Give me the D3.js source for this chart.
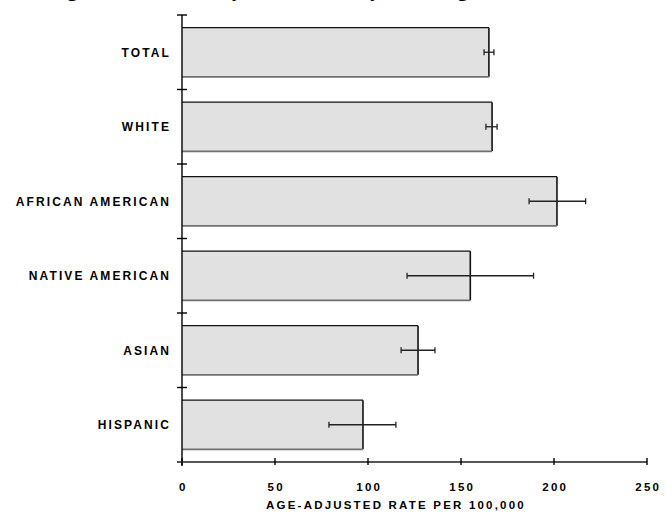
<!DOCTYPE html>
<html>
<head>
<meta charset="utf-8">
<script src="https://cdn.jsdelivr.net/npm/d3@7/dist/d3.min.js"></script>
<style>
  html, body { margin: 0; padding: 0; background: #fff; }
  svg { display: block; }
</style>
</head>
<body>
<script>
const categories = ["TOTAL", "WHITE", "AFRICAN AMERICAN", "NATIVE AMERICAN", "ASIAN", "HISPANIC"];
const rates      = [165.0, 166.7, 201.6, 155.0, 126.9, 97.3];
const ciLow      = [162.4, 163.4, 186.6, 121.0, 117.8, 79.0];
const ciHigh     = [167.7, 169.4, 217.0, 189.0, 136.0, 115.0];
const xTicks     = [0, 50, 100, 150, 200, 250];
const xTitle     = "AGE-ADJUSTED RATE PER 100,000";
const chartTitle = "Lung Cancer Deaths by Race/Ethnicity, Washington, 1996–2000";

const W = 666, H = 512;
const svg = d3.select("body").append("svg").attr("width", W).attr("height", H);

const x = d3.scaleLinear().domain([0, 250]).range([182, 647]);
const y = d3.scaleBand().domain(categories).range([15, 462]).paddingInner(0.34).paddingOuter(0.17);

const data = categories.map((c, i) => ({ c, v: rates[i], lo: ciLow[i], hi: ciHigh[i] }));

// Partially visible title at top (cut off, as in the reference)
svg.append("text")
  .attr("x", 30).attr("y", -4)
  .attr("font-family", "Liberation Serif, Times New Roman, serif")
  .attr("font-weight", "bold").attr("font-size", 21)
  .attr("fill", "#000")
  .text(chartTitle);

// Bars
const bars = svg.append("g");
data.forEach(d => {
  const x0 = x(0), x1 = x(d.v), y0 = y(d.c), y1 = y(d.c) + y.bandwidth();
  bars.append("rect")
    .attr("x", x0).attr("y", y0).attr("width", x1 - x0).attr("height", y1 - y0)
    .attr("fill", "#e1e1e1");
  bars.append("line").attr("x1", x0).attr("x2", x1).attr("y1", y0).attr("y2", y0)
    .attr("stroke", "#111").attr("stroke-width", 1.4);
  bars.append("line").attr("x1", x1).attr("x2", x1).attr("y1", y0).attr("y2", y1)
    .attr("stroke", "#111").attr("stroke-width", 1.6);
  bars.append("line").attr("x1", x0).attr("x2", x1).attr("y1", y1).attr("y2", y1)
    .attr("stroke", "#707070").attr("stroke-width", 1.8);
});

// Error bars
const err = svg.append("g").attr("stroke", "#222").attr("stroke-width", 1.3);
data.forEach(d => {
  const cy = y(d.c) + y.bandwidth() / 2;
  err.append("line").attr("x1", x(d.lo)).attr("x2", x(d.hi)).attr("y1", cy).attr("y2", cy);
  err.append("line").attr("x1", x(d.lo)).attr("x2", x(d.lo)).attr("y1", cy - 3).attr("y2", cy + 3);
  err.append("line").attr("x1", x(d.hi)).attr("x2", x(d.hi)).attr("y1", cy - 3).attr("y2", cy + 3);
});

// Y axis line and ticks at band boundaries
const yAxis = svg.append("g").attr("stroke", "#000").attr("stroke-width", 1.4);
yAxis.append("line").attr("x1", x(0)).attr("x2", x(0)).attr("y1", y.range()[0]).attr("y2", y.range()[1] + 4);
for (let i = 0; i <= categories.length; i++) {
  const ty = y.range()[0] + i * y.step();
  yAxis.append("line").attr("x1", x(0) - 5).attr("x2", x(0) + 5).attr("y1", ty).attr("y2", ty);
}

// X axis
const xAxisY = y.range()[1];
const xAxis = svg.append("g").attr("stroke", "#000").attr("stroke-width", 1.4);
xAxis.append("line").attr("x1", x(0) - 4).attr("x2", x(250)).attr("y1", xAxisY).attr("y2", xAxisY)
  .attr("stroke", "#555").attr("stroke-width", 1.8);
xTicks.forEach(t => {
  xAxis.append("line").attr("x1", x(t)).attr("x2", x(t)).attr("y1", xAxisY - 4).attr("y2", xAxisY + 3);
});

const labelFont = "Liberation Sans, Arial, Helvetica, sans-serif";
// X tick labels
svg.append("g").selectAll("text").data(xTicks).join("text")
  .attr("x", d => x(d) + 1.2).attr("y", 491)
  .attr("text-anchor", "middle")
  .attr("font-family", labelFont).attr("font-weight", "bold").attr("font-size", 11.5)
  .attr("letter-spacing", "2.2px")
  .text(d => d);

// X axis title
svg.append("text")
  .attr("x", 396).attr("y", 509)
  .attr("text-anchor", "middle")
  .attr("font-family", labelFont).attr("font-weight", "bold").attr("font-size", 11.5)
  .attr("letter-spacing", "2.2px")
  .text(xTitle);

// Category labels
svg.append("g").selectAll("text").data(categories).join("text")
  .attr("x", 171).attr("y", d => y(d) + y.bandwidth() / 2 + 4.5)
  .attr("text-anchor", "end")
  .attr("font-family", labelFont).attr("font-weight", "bold").attr("font-size", 12)
  .attr("letter-spacing", "2.1px")
  .text(d => d);
</script>
</body>
</html>
